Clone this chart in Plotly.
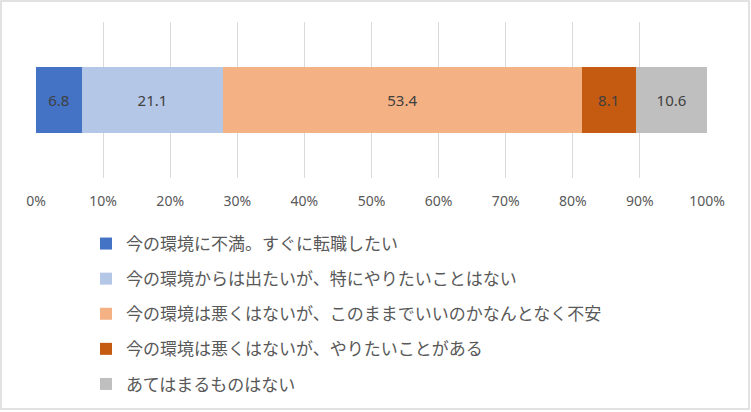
import plotly.graph_objects as go

# survey answers (percent of respondents)
labels = [
    "今の環境に不満。すぐに転職したい",
    "今の環境からは出たいが、特にやりたいことはない",
    "今の環境は悪くはないが、このままでいいのかなんとなく不安",
    "今の環境は悪くはないが、やりたいことがある",
    "あてはまるものはない",
]
values = [6.8, 21.1, 53.4, 8.1, 10.6]
colors = ["#4472C4", "#B4C7E7", "#F4B183", "#C55A11", "#BFBFBF"]
tick_vals = [0, 10, 20, 30, 40, 50, 60, 70, 80, 90, 100]
tick_text = [f"{v}%" for v in tick_vals]

W, H = 751, 412
ML, MR, MT, MB = 36, 44, 22, 234

fig = go.Figure()
for i, (name, val, col) in enumerate(zip(labels, values, colors)):
    fig.add_trace(
        go.Bar(
            x=[val],
            y=[""],
            name=name,
            orientation="h",
            marker=dict(color=col, line=dict(width=0)),
            width=0.42,
            text=[f"{val:.1f}"],
            textposition="inside",
            insidetextanchor="middle",
            textfont=dict(color="#404040", size=15),
            legendgroup=str(i),
            hoverinfo="name+x",
        )
    )

pw = W - ML - MR
ph = H - MT - MB

fig.update_layout(
    width=W,
    height=H,
    barmode="stack",
    margin=dict(l=ML, r=MR, t=MT, b=MB, autoexpand=False),
    paper_bgcolor="white",
    plot_bgcolor="white",
    font=dict(family="Noto Sans, Noto Sans CJK JP", size=14, color="#595959"),
    xaxis=dict(
        range=[0, 100],
        tickvals=tick_vals,
        ticktext=tick_text,
        showgrid=True,
        gridcolor="#D9D9D9",
        gridwidth=1,
        zeroline=False,
        showline=False,
        ticks="outside",
        ticklen=10,
        tickcolor="white",
        tickfont=dict(size=14, color="#595959"),
        fixedrange=True,
    ),
    yaxis=dict(visible=False, range=[-0.5, 0.5], fixedrange=True),
    showlegend=True,
    legend=dict(
        orientation="v",
        traceorder="grouped",
        tracegroupgap=10,
        xref="container",
        yref="container",
        x=86 / W,
        xanchor="left",
        y=1 - 226 / H,
        yanchor="top",
        font=dict(family="Noto Sans CJK JP", size=17, color="#595959"),
        bgcolor="rgba(0,0,0,0)",
    ),
    shapes=[
        dict(
            type="rect",
            xref="paper",
            yref="paper",
            x0=(1 - ML) / pw,
            x1=(W - 2 - ML) / pw,
            y0=-(H - 3 - (H - MB)) / ph,
            y1=((H - MB) - 1) / ph,
            line=dict(color="#D9D9D9", width=1.5),
            layer="below",
        )
    ],
)

fig.write_html(
    "out.html",
    config={"displayModeBar": False},
    post_script="document.body.style.margin='0';",
)
